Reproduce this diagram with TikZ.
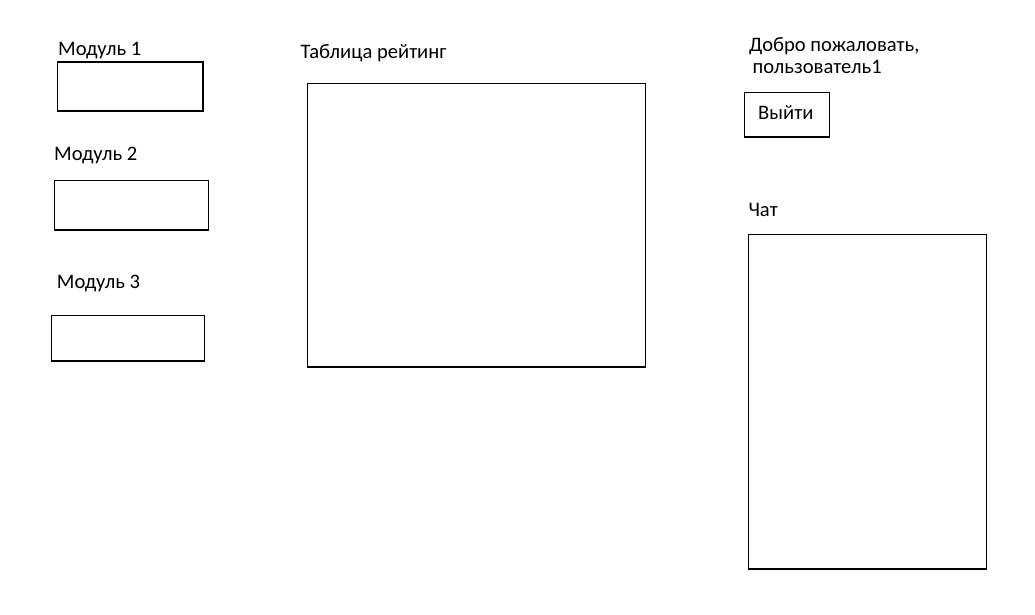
\documentclass[tikz,border=0pt]{standalone}
\usepackage{fontspec}
\setmainfont{Carlito}
\begin{document}
\begin{tikzpicture}[x=1pt,y=-1pt,
  lbl/.style={anchor=base west,inner sep=0pt,font=\fontsize{20.6}{24}\selectfont},
  frame/.style={draw=black,line width=1.2pt}]
\useasboundingbox[fill=white] (0,0) rectangle (1035,615);
% labels
\node[lbl] (m1t) at (58,56) {Модуль 1};
\node[lbl] (m2t) at (54,160.7) {Модуль 2};
\node[lbl] (m3t) at (56.7,288.3) {Модуль 3};
\node[lbl] (tabt) at (300.5,58.3) {Таблица рейтинг};
\node[lbl] (w1) at (749,51.7) {Добро пожаловать,};
\node[lbl] (w2) at (752.5,73.3) {пользователь1};
\node[lbl] (chatt) at (748.3,216.7) {Чат};
% boxes
\draw[frame] (57.3,62) rectangle (203,111);
\draw[frame] (54.3,180.7) rectangle (208.3,230);
\draw[frame] (51.3,315.5) rectangle (204.3,361);
\draw[frame] (307.3,83.5) rectangle (645.3,367);
\draw[frame] (744.3,92.5) rectangle (829.3,137);
\node[lbl] (exit) at (758,119.3) {Выйти};
\draw[frame] (748.3,234.5) rectangle (986.3,569);
\end{tikzpicture}
\end{document}
